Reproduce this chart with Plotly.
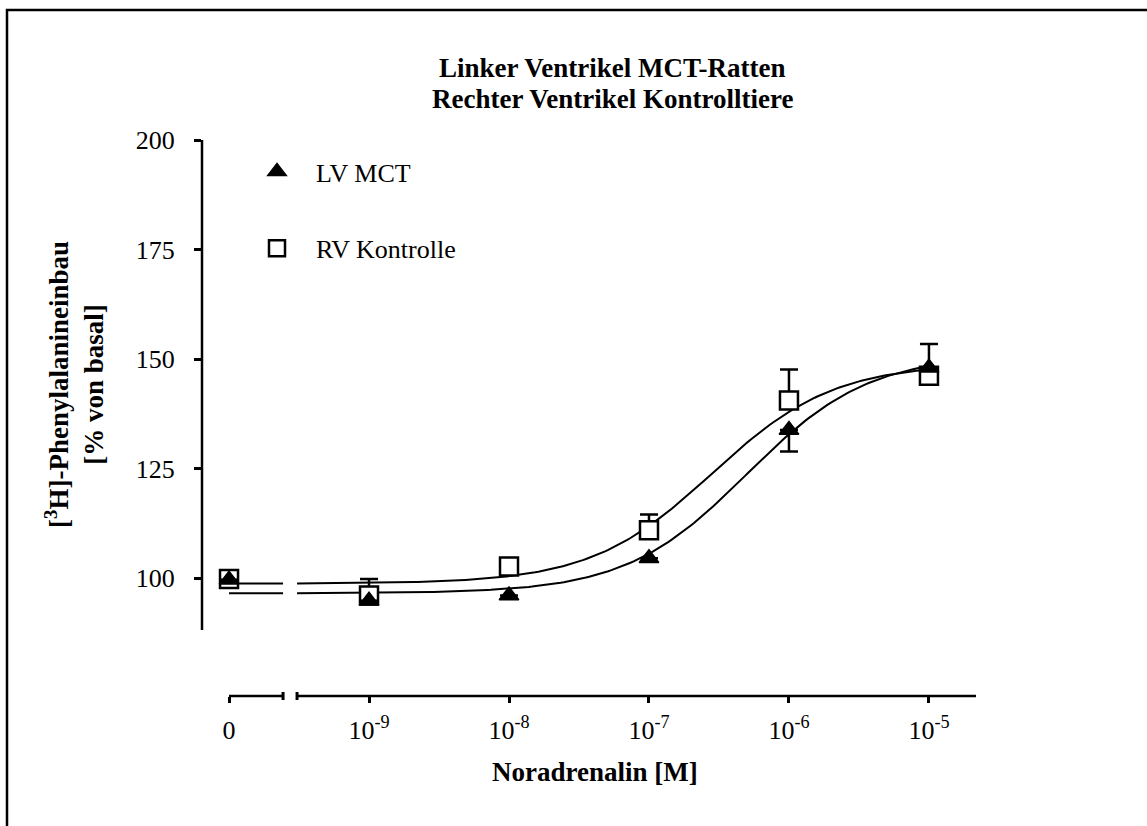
import numpy as np
import plotly.graph_objects as go

# ---------------- data ----------------
conc_labels = ["0", "10<sup>-9</sup>", "10<sup>-8</sup>", "10<sup>-7</sup>",
               "10<sup>-6</sup>", "10<sup>-5</sup>"]
log_conc = [-10, -9, -8, -7, -6, -5]          # "0" drawn one decade below 1e-9

lv_mct = [99.6, 94.8, 96.0, 104.5, 133.8, 148.0]
lv_err_plus = [0, 0, 0, 0, 0, 5.4]
lv_err_minus = [0, 0, 0, 0, 4.9, 0]

rv_ktrl = [99.8, 96.0, 102.6, 110.9, 140.5, 146.2]
rv_err_plus = [0, 3.8, 0, 3.6, 7.1, 0]
rv_err_minus = [0, 0, 0, 0, 0, 0]

# sigmoidal fits: bottom, top, logEC50, hill slope
lv_fit = [96.5, 151.0, -6.30, 1.0]
rv_fit = [98.7, 149.0, -6.55, 1.0]

y_ticks = [100, 125, 150, 175, 200]

# axis layout (log10 units)
x_range = [-10.193, -4.664]
y_range = [73.06, 200]
y_axis_bottom = 88.1
break_left = -9.614
break_right = -9.514

FONT = "Liberation Serif, Times New Roman, serif"


def sigmoid(x, p):
    b, t, ec, h = p
    return b + (t - b) / (1 + 10 ** ((ec - x) * h))


fig = go.Figure()

# fitted curves (segment before and after the axis break)
for p in (rv_fit, lv_fit):
    for lo, hi in ((log_conc[0], break_left), (break_right, log_conc[-1])):
        xs = np.linspace(lo, hi, 200)
        fig.add_trace(go.Scatter(x=xs, y=sigmoid(xs, p), mode="lines",
                                 line=dict(color="black", width=2),
                                 showlegend=False, hoverinfo="skip"))

# data points
fig.add_trace(go.Scatter(
    x=log_conc, y=rv_ktrl, mode="markers", name="RV Kontrolle",
    legendrank=2, legendgroup="rv",
    marker=dict(symbol="square", size=18, color="white",
                line=dict(color="black", width=2.5)),
    error_y=dict(type="data", symmetric=False, array=rv_err_plus,
                 arrayminus=rv_err_minus, color="black", thickness=2.5, width=9)))
fig.add_trace(go.Scatter(
    x=log_conc, y=lv_mct, mode="markers", name="LV MCT",
    legendrank=1, legendgroup="lv",
    marker=dict(symbol="triangle-up", size=17, color="black",
                line=dict(color="black", width=1.5)),
    error_y=dict(type="data", symmetric=False, array=lv_err_plus,
                 arrayminus=lv_err_minus, color="black", thickness=2.5, width=9)))

shapes = []
# y axis line
shapes.append(dict(type="line", xref="x domain", yref="y", x0=0, x1=0,
                   y0=y_axis_bottom, y1=y_range[1],
                   line=dict(color="black", width=2.5)))
# broken x axis
shapes.append(dict(type="line", xref="x", yref="y domain", x0=log_conc[0],
                   x1=break_left, y0=0, y1=0, line=dict(color="black", width=2.5)))
shapes.append(dict(type="line", xref="x", yref="y domain", x0=break_right,
                   x1=x_range[1], y0=0, y1=0, line=dict(color="black", width=2.5)))
for bx in (break_left, break_right):
    shapes.append(dict(type="line", xref="x", yref="y domain", ysizemode="pixel",
                       yanchor=0, x0=bx, x1=bx, y0=-4, y1=4,
                       line=dict(color="black", width=3)))
# outer frame
shapes.append(dict(type="rect", xref="paper", yref="paper",
                   x0=(7 - 202) / 774, x1=(1160 - 202) / 774,
                   y0=(696 - 840) / 556, y1=(696 - 10) / 556,
                   line=dict(color="black", width=2.5), layer="above"))

annotations = [
    dict(text="<b>Linker Ventrikel MCT-Ratten</b>", xref="paper", yref="paper",
         x=(612 - 202) / 774, y=(696 - 68) / 556, showarrow=False,
         xanchor="center", yanchor="middle",
         font=dict(family=FONT, size=27, color="black")),
    dict(text="<b>Rechter Ventrikel Kontrolltiere</b>", xref="paper", yref="paper",
         x=(612 - 202) / 774, y=(696 - 99) / 556, showarrow=False,
         xanchor="center", yanchor="middle",
         font=dict(family=FONT, size=27, color="black")),
    dict(text="<b>[<sup>3</sup>H]-Phenylalanineinbau<br>[% von basal]</b>",
         xref="paper", yref="paper", x=(74 - 202) / 774, y=(696 - 385) / 556,
         textangle=-90, showarrow=False, xanchor="center", yanchor="middle",
         font=dict(family=FONT, size=27, color="black")),
    dict(text="<b>Noradrenalin [M]</b>", xref="paper", yref="paper",
         x=(595 - 202) / 774, y=(696 - 772) / 556, showarrow=False,
         xanchor="center", yanchor="middle",
         font=dict(family=FONT, size=27, color="black")),
]

fig.update_layout(
    width=1147, height=826,
    margin=dict(l=202, r=171, t=140, b=130, pad=0),
    paper_bgcolor="white", plot_bgcolor="white",
    font=dict(family=FONT, size=26, color="black"),
    shapes=shapes, annotations=annotations,
    legend=dict(x=(238 - 202) / 774, y=(696 - 148) / 556, xanchor="left",
                yanchor="top", traceorder="grouped", tracegroupgap=40,
                bgcolor="rgba(0,0,0,0)", font=dict(family=FONT, size=26),
                itemsizing="trace", itemwidth=68),
    xaxis=dict(range=x_range, showline=False, showgrid=False, zeroline=False,
               tickmode="array", tickvals=log_conc, ticktext=conc_labels,
               ticks="outside", ticklen=6, tickwidth=2.5, tickcolor="black",
               ticklabelstandoff=5,
               tickfont=dict(family=FONT, size=26, color="black")),
    yaxis=dict(range=y_range, showline=False, showgrid=False, zeroline=False,
               tickmode="array", tickvals=y_ticks, ticks="outside", ticklen=7,
               tickwidth=2.5, tickcolor="black", ticklabelstandoff=14,
               tickfont=dict(family=FONT, size=26, color="black")),
)

fig.write_html("out.html")
